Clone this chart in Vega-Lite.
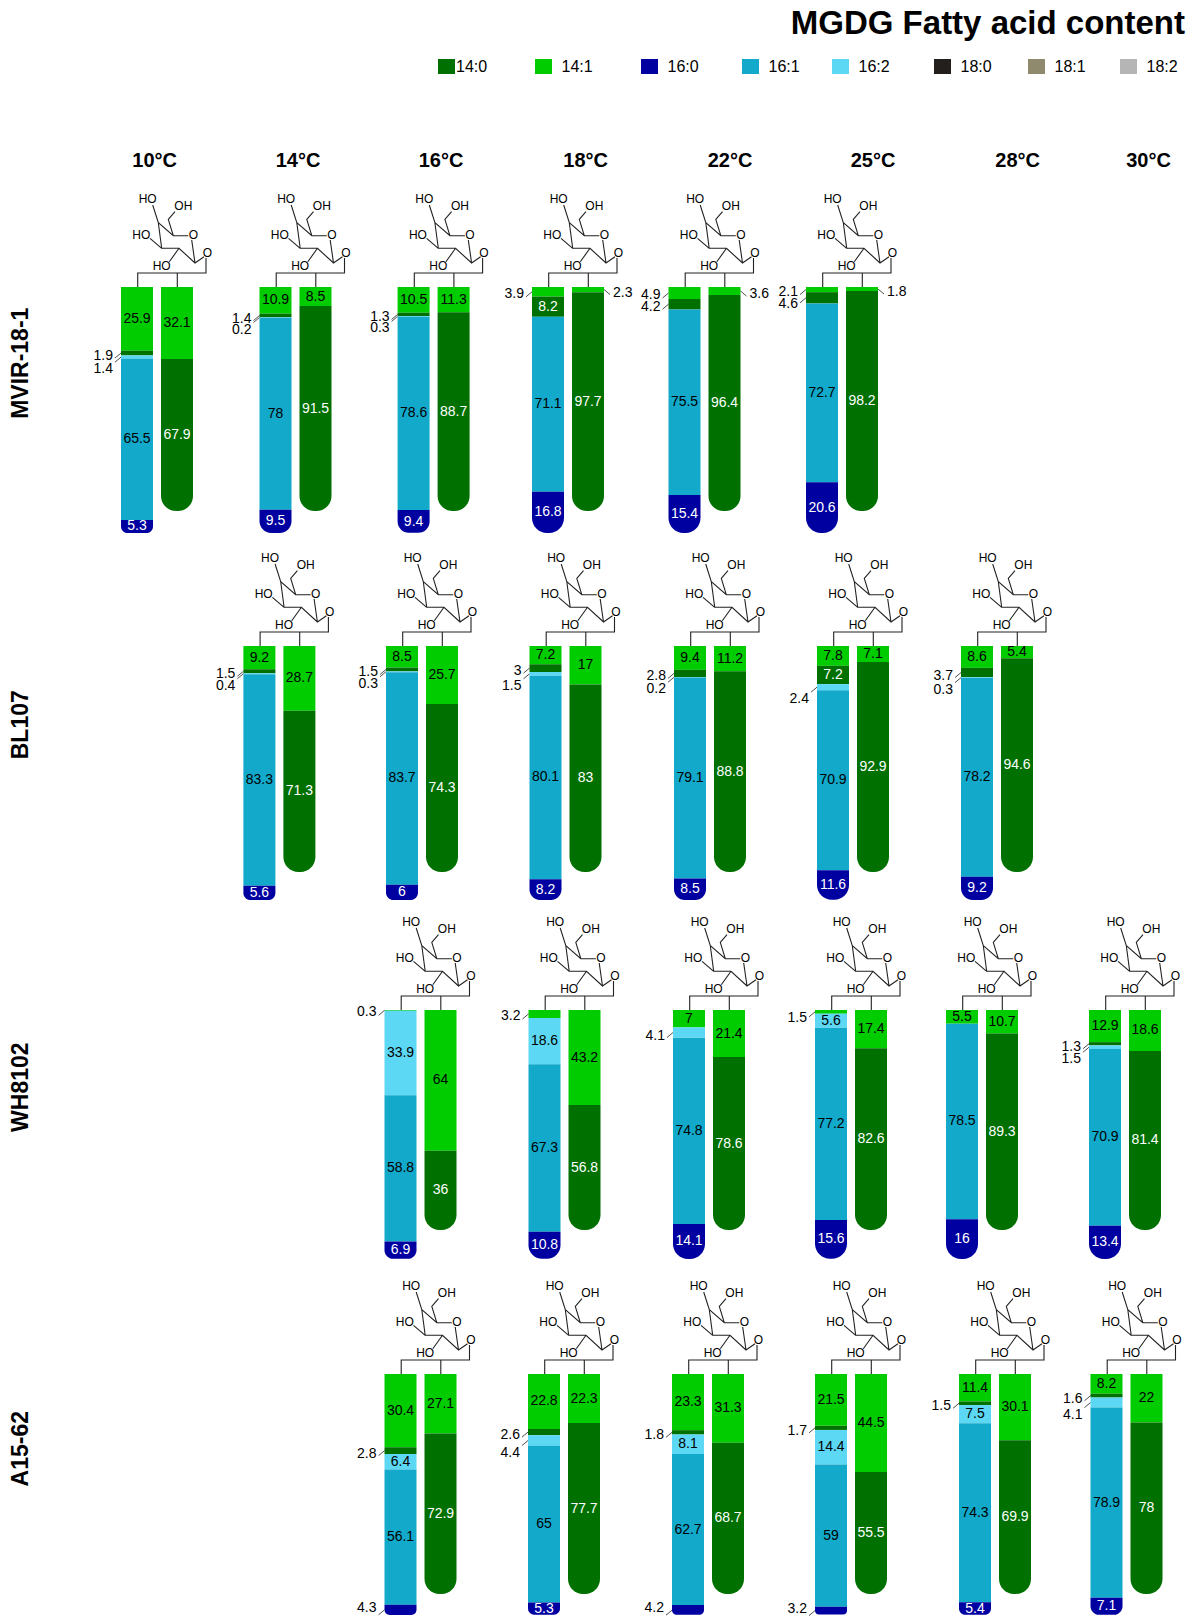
{
"$schema":"https://vega.github.io/schema/vega-lite/v6.json",
"width":1196,"height":1616,"padding":0,"autosize":{"type":"none"},"background":"#ffffff",
"config":{"font":"Liberation Sans","view":{"stroke":null}},
"title":{"text":"MGDG Fatty acid content","anchor":"end","frame":"group","fontSize":33,"fontWeight":"bold","font":"Liberation Sans","color":"#000000","offset":0,"dy":67,"dx":-11,"baseline":"alphabetic"},
"data":{"values":[
{"strain":"MVIR-18-1","temp":10,"tube":"sn1","fa":"14:1","pct":25.9},{"strain":"MVIR-18-1","temp":10,"tube":"sn1","fa":"14:0","pct":1.9},{"strain":"MVIR-18-1","temp":10,"tube":"sn1","fa":"16:2","pct":1.4},{"strain":"MVIR-18-1","temp":10,"tube":"sn1","fa":"16:1","pct":65.5},{"strain":"MVIR-18-1","temp":10,"tube":"sn1","fa":"16:0","pct":5.3},{"strain":"MVIR-18-1","temp":10,"tube":"sn2","fa":"14:1","pct":32.1},{"strain":"MVIR-18-1","temp":10,"tube":"sn2","fa":"14:0","pct":67.9},
{"strain":"MVIR-18-1","temp":14,"tube":"sn1","fa":"14:1","pct":10.9},{"strain":"MVIR-18-1","temp":14,"tube":"sn1","fa":"14:0","pct":1.4},{"strain":"MVIR-18-1","temp":14,"tube":"sn1","fa":"16:2","pct":0.2},{"strain":"MVIR-18-1","temp":14,"tube":"sn1","fa":"16:1","pct":78},{"strain":"MVIR-18-1","temp":14,"tube":"sn1","fa":"16:0","pct":9.5},{"strain":"MVIR-18-1","temp":14,"tube":"sn2","fa":"14:1","pct":8.5},{"strain":"MVIR-18-1","temp":14,"tube":"sn2","fa":"14:0","pct":91.5},
{"strain":"MVIR-18-1","temp":16,"tube":"sn1","fa":"14:1","pct":10.5},{"strain":"MVIR-18-1","temp":16,"tube":"sn1","fa":"14:0","pct":1.3},{"strain":"MVIR-18-1","temp":16,"tube":"sn1","fa":"16:2","pct":0.3},{"strain":"MVIR-18-1","temp":16,"tube":"sn1","fa":"16:1","pct":78.6},{"strain":"MVIR-18-1","temp":16,"tube":"sn1","fa":"16:0","pct":9.4},{"strain":"MVIR-18-1","temp":16,"tube":"sn2","fa":"14:1","pct":11.3},{"strain":"MVIR-18-1","temp":16,"tube":"sn2","fa":"14:0","pct":88.7},
{"strain":"MVIR-18-1","temp":18,"tube":"sn1","fa":"14:1","pct":3.9},{"strain":"MVIR-18-1","temp":18,"tube":"sn1","fa":"14:0","pct":8.2},{"strain":"MVIR-18-1","temp":18,"tube":"sn1","fa":"16:1","pct":71.1},{"strain":"MVIR-18-1","temp":18,"tube":"sn1","fa":"16:0","pct":16.8},{"strain":"MVIR-18-1","temp":18,"tube":"sn2","fa":"14:1","pct":2.3},{"strain":"MVIR-18-1","temp":18,"tube":"sn2","fa":"14:0","pct":97.7},
{"strain":"MVIR-18-1","temp":22,"tube":"sn1","fa":"14:1","pct":4.9},{"strain":"MVIR-18-1","temp":22,"tube":"sn1","fa":"14:0","pct":4.2},{"strain":"MVIR-18-1","temp":22,"tube":"sn1","fa":"16:1","pct":75.5},{"strain":"MVIR-18-1","temp":22,"tube":"sn1","fa":"16:0","pct":15.4},{"strain":"MVIR-18-1","temp":22,"tube":"sn2","fa":"14:1","pct":3.6},{"strain":"MVIR-18-1","temp":22,"tube":"sn2","fa":"14:0","pct":96.4},
{"strain":"MVIR-18-1","temp":25,"tube":"sn1","fa":"14:1","pct":2.1},{"strain":"MVIR-18-1","temp":25,"tube":"sn1","fa":"14:0","pct":4.6},{"strain":"MVIR-18-1","temp":25,"tube":"sn1","fa":"16:1","pct":72.7},{"strain":"MVIR-18-1","temp":25,"tube":"sn1","fa":"16:0","pct":20.6},{"strain":"MVIR-18-1","temp":25,"tube":"sn2","fa":"14:1","pct":1.8},{"strain":"MVIR-18-1","temp":25,"tube":"sn2","fa":"14:0","pct":98.2},
{"strain":"BL107","temp":14,"tube":"sn1","fa":"14:1","pct":9.2},{"strain":"BL107","temp":14,"tube":"sn1","fa":"14:0","pct":1.5},{"strain":"BL107","temp":14,"tube":"sn1","fa":"16:2","pct":0.4},{"strain":"BL107","temp":14,"tube":"sn1","fa":"16:1","pct":83.3},{"strain":"BL107","temp":14,"tube":"sn1","fa":"16:0","pct":5.6},{"strain":"BL107","temp":14,"tube":"sn2","fa":"14:1","pct":28.7},{"strain":"BL107","temp":14,"tube":"sn2","fa":"14:0","pct":71.3},
{"strain":"BL107","temp":16,"tube":"sn1","fa":"14:1","pct":8.5},{"strain":"BL107","temp":16,"tube":"sn1","fa":"14:0","pct":1.5},{"strain":"BL107","temp":16,"tube":"sn1","fa":"16:2","pct":0.3},{"strain":"BL107","temp":16,"tube":"sn1","fa":"16:1","pct":83.7},{"strain":"BL107","temp":16,"tube":"sn1","fa":"16:0","pct":6},{"strain":"BL107","temp":16,"tube":"sn2","fa":"14:1","pct":25.7},{"strain":"BL107","temp":16,"tube":"sn2","fa":"14:0","pct":74.3},
{"strain":"BL107","temp":18,"tube":"sn1","fa":"14:1","pct":7.2},{"strain":"BL107","temp":18,"tube":"sn1","fa":"14:0","pct":3},{"strain":"BL107","temp":18,"tube":"sn1","fa":"16:2","pct":1.5},{"strain":"BL107","temp":18,"tube":"sn1","fa":"16:1","pct":80.1},{"strain":"BL107","temp":18,"tube":"sn1","fa":"16:0","pct":8.2},{"strain":"BL107","temp":18,"tube":"sn2","fa":"14:1","pct":17},{"strain":"BL107","temp":18,"tube":"sn2","fa":"14:0","pct":83},
{"strain":"BL107","temp":22,"tube":"sn1","fa":"14:1","pct":9.4},{"strain":"BL107","temp":22,"tube":"sn1","fa":"14:0","pct":2.8},{"strain":"BL107","temp":22,"tube":"sn1","fa":"16:2","pct":0.2},{"strain":"BL107","temp":22,"tube":"sn1","fa":"16:1","pct":79.1},{"strain":"BL107","temp":22,"tube":"sn1","fa":"16:0","pct":8.5},{"strain":"BL107","temp":22,"tube":"sn2","fa":"14:1","pct":11.2},{"strain":"BL107","temp":22,"tube":"sn2","fa":"14:0","pct":88.8},
{"strain":"BL107","temp":25,"tube":"sn1","fa":"14:1","pct":7.8},{"strain":"BL107","temp":25,"tube":"sn1","fa":"14:0","pct":7.2},{"strain":"BL107","temp":25,"tube":"sn1","fa":"16:2","pct":2.4},{"strain":"BL107","temp":25,"tube":"sn1","fa":"16:1","pct":70.9},{"strain":"BL107","temp":25,"tube":"sn1","fa":"16:0","pct":11.6},{"strain":"BL107","temp":25,"tube":"sn2","fa":"14:1","pct":7.1},{"strain":"BL107","temp":25,"tube":"sn2","fa":"14:0","pct":92.9},
{"strain":"BL107","temp":28,"tube":"sn1","fa":"14:1","pct":8.6},{"strain":"BL107","temp":28,"tube":"sn1","fa":"14:0","pct":3.7},{"strain":"BL107","temp":28,"tube":"sn1","fa":"16:2","pct":0.3},{"strain":"BL107","temp":28,"tube":"sn1","fa":"16:1","pct":78.2},{"strain":"BL107","temp":28,"tube":"sn1","fa":"16:0","pct":9.2},{"strain":"BL107","temp":28,"tube":"sn2","fa":"14:1","pct":5.4},{"strain":"BL107","temp":28,"tube":"sn2","fa":"14:0","pct":94.6},
{"strain":"WH8102","temp":16,"tube":"sn1","fa":"14:1","pct":0.3},{"strain":"WH8102","temp":16,"tube":"sn1","fa":"16:2","pct":33.9},{"strain":"WH8102","temp":16,"tube":"sn1","fa":"16:1","pct":58.8},{"strain":"WH8102","temp":16,"tube":"sn1","fa":"16:0","pct":6.9},{"strain":"WH8102","temp":16,"tube":"sn2","fa":"14:1","pct":64},{"strain":"WH8102","temp":16,"tube":"sn2","fa":"14:0","pct":36},
{"strain":"WH8102","temp":18,"tube":"sn1","fa":"14:1","pct":3.2},{"strain":"WH8102","temp":18,"tube":"sn1","fa":"16:2","pct":18.6},{"strain":"WH8102","temp":18,"tube":"sn1","fa":"16:1","pct":67.3},{"strain":"WH8102","temp":18,"tube":"sn1","fa":"16:0","pct":10.8},{"strain":"WH8102","temp":18,"tube":"sn2","fa":"14:1","pct":43.2},{"strain":"WH8102","temp":18,"tube":"sn2","fa":"14:0","pct":56.8},
{"strain":"WH8102","temp":22,"tube":"sn1","fa":"14:1","pct":7},{"strain":"WH8102","temp":22,"tube":"sn1","fa":"16:2","pct":4.1},{"strain":"WH8102","temp":22,"tube":"sn1","fa":"16:1","pct":74.8},{"strain":"WH8102","temp":22,"tube":"sn1","fa":"16:0","pct":14.1},{"strain":"WH8102","temp":22,"tube":"sn2","fa":"14:1","pct":21.4},{"strain":"WH8102","temp":22,"tube":"sn2","fa":"14:0","pct":78.6},
{"strain":"WH8102","temp":25,"tube":"sn1","fa":"14:1","pct":1.5},{"strain":"WH8102","temp":25,"tube":"sn1","fa":"16:2","pct":5.6},{"strain":"WH8102","temp":25,"tube":"sn1","fa":"16:1","pct":77.2},{"strain":"WH8102","temp":25,"tube":"sn1","fa":"16:0","pct":15.6},{"strain":"WH8102","temp":25,"tube":"sn2","fa":"14:1","pct":17.4},{"strain":"WH8102","temp":25,"tube":"sn2","fa":"14:0","pct":82.6},
{"strain":"WH8102","temp":28,"tube":"sn1","fa":"14:1","pct":5.5},{"strain":"WH8102","temp":28,"tube":"sn1","fa":"16:1","pct":78.5},{"strain":"WH8102","temp":28,"tube":"sn1","fa":"16:0","pct":16},{"strain":"WH8102","temp":28,"tube":"sn2","fa":"14:1","pct":10.7},{"strain":"WH8102","temp":28,"tube":"sn2","fa":"14:0","pct":89.3},
{"strain":"WH8102","temp":30,"tube":"sn1","fa":"14:1","pct":12.9},{"strain":"WH8102","temp":30,"tube":"sn1","fa":"14:0","pct":1.3},{"strain":"WH8102","temp":30,"tube":"sn1","fa":"16:2","pct":1.5},{"strain":"WH8102","temp":30,"tube":"sn1","fa":"16:1","pct":70.9},{"strain":"WH8102","temp":30,"tube":"sn1","fa":"16:0","pct":13.4},{"strain":"WH8102","temp":30,"tube":"sn2","fa":"14:1","pct":18.6},{"strain":"WH8102","temp":30,"tube":"sn2","fa":"14:0","pct":81.4},
{"strain":"A15-62","temp":16,"tube":"sn1","fa":"14:1","pct":30.4},{"strain":"A15-62","temp":16,"tube":"sn1","fa":"14:0","pct":2.8},{"strain":"A15-62","temp":16,"tube":"sn1","fa":"16:2","pct":6.4},{"strain":"A15-62","temp":16,"tube":"sn1","fa":"16:1","pct":56.1},{"strain":"A15-62","temp":16,"tube":"sn1","fa":"16:0","pct":4.3},{"strain":"A15-62","temp":16,"tube":"sn2","fa":"14:1","pct":27.1},{"strain":"A15-62","temp":16,"tube":"sn2","fa":"14:0","pct":72.9},
{"strain":"A15-62","temp":18,"tube":"sn1","fa":"14:1","pct":22.8},{"strain":"A15-62","temp":18,"tube":"sn1","fa":"14:0","pct":2.6},{"strain":"A15-62","temp":18,"tube":"sn1","fa":"16:2","pct":4.4},{"strain":"A15-62","temp":18,"tube":"sn1","fa":"16:1","pct":65},{"strain":"A15-62","temp":18,"tube":"sn1","fa":"16:0","pct":5.3},{"strain":"A15-62","temp":18,"tube":"sn2","fa":"14:1","pct":22.3},{"strain":"A15-62","temp":18,"tube":"sn2","fa":"14:0","pct":77.7},
{"strain":"A15-62","temp":22,"tube":"sn1","fa":"14:1","pct":23.3},{"strain":"A15-62","temp":22,"tube":"sn1","fa":"14:0","pct":1.8},{"strain":"A15-62","temp":22,"tube":"sn1","fa":"16:2","pct":8.1},{"strain":"A15-62","temp":22,"tube":"sn1","fa":"16:1","pct":62.7},{"strain":"A15-62","temp":22,"tube":"sn1","fa":"16:0","pct":4.2},{"strain":"A15-62","temp":22,"tube":"sn2","fa":"14:1","pct":31.3},{"strain":"A15-62","temp":22,"tube":"sn2","fa":"14:0","pct":68.7},
{"strain":"A15-62","temp":25,"tube":"sn1","fa":"14:1","pct":21.5},{"strain":"A15-62","temp":25,"tube":"sn1","fa":"14:0","pct":1.7},{"strain":"A15-62","temp":25,"tube":"sn1","fa":"16:2","pct":14.4},{"strain":"A15-62","temp":25,"tube":"sn1","fa":"16:1","pct":59},{"strain":"A15-62","temp":25,"tube":"sn1","fa":"16:0","pct":3.2},{"strain":"A15-62","temp":25,"tube":"sn2","fa":"14:1","pct":44.5},{"strain":"A15-62","temp":25,"tube":"sn2","fa":"14:0","pct":55.5},
{"strain":"A15-62","temp":28,"tube":"sn1","fa":"14:1","pct":11.4},{"strain":"A15-62","temp":28,"tube":"sn1","fa":"14:0","pct":1.5},{"strain":"A15-62","temp":28,"tube":"sn1","fa":"16:2","pct":7.5},{"strain":"A15-62","temp":28,"tube":"sn1","fa":"16:1","pct":74.3},{"strain":"A15-62","temp":28,"tube":"sn1","fa":"16:0","pct":5.4},{"strain":"A15-62","temp":28,"tube":"sn2","fa":"14:1","pct":30.1},{"strain":"A15-62","temp":28,"tube":"sn2","fa":"14:0","pct":69.9},
{"strain":"A15-62","temp":30,"tube":"sn1","fa":"14:1","pct":8.2},{"strain":"A15-62","temp":30,"tube":"sn1","fa":"14:0","pct":1.6},{"strain":"A15-62","temp":30,"tube":"sn1","fa":"16:2","pct":4.1},{"strain":"A15-62","temp":30,"tube":"sn1","fa":"16:1","pct":78.9},{"strain":"A15-62","temp":30,"tube":"sn1","fa":"16:0","pct":7.1},{"strain":"A15-62","temp":30,"tube":"sn2","fa":"14:1","pct":22},{"strain":"A15-62","temp":30,"tube":"sn2","fa":"14:0","pct":78}
]},
"transform":[
{"stack":"pct","groupby":["strain","temp","tube"],"as":["s0","s1"]},
{"calculate":"indexof(['MVIR-18-1','BL107','WH8102','A15-62'],datum.strain)","as":"r"},
{"calculate":"datum.r*100+datum.temp","as":"key"},
{"calculate":"datum.r*400+(datum.tube=='sn2'?200:0)","as":"base"},
{"calculate":"datum.base+datum.s0","as":"y0"},
{"calculate":"datum.base+datum.s1","as":"y1"},
{"calculate":"(datum.y0+datum.y1)/2","as":"yc"}
],
"encoding":{
"x":{"field":"key","type":"quantitative","axis":null,"scale":{"zero":false,"nice":false,
"domain":[10,14,16,18,22,25,114,116,118,122,125,128,216,218,222,225,228,230,316,318,322,325,328,330,410,414,416,418,422,425,428,430,450,500,501,502,503,504,505,506,507],
"range":[157,295.5,433.6,568,704.5,842,279.4,422,565.5,710,853,997,420.5,564.5,709,851,982,1125,420.5,564,708,851,995,1126.5,154.7,298,441,585.6,730,873,1017.6,1148.5,20.6,446.5,543.5,649.5,750.5,840.5,942.5,1036.5,1128.5]}},
"y":{"field":"y0","type":"quantitative","axis":null,"scale":{"zero":false,"nice":false,
"domain":[0,100,200,300,400,500,600,700,800,900,1000,1100,1200,1300,1400,1500,1600,1700],
"range":[287,533,287,511,646,900,646,872,1010,1259,1010,1230,1374,1615,1374,1594,161,66.5]}}
},
"layer":[
{"encoding":{"x2":{"field":"key"},"y2":{"field":"y1"},"color":{"field":"fa","type":"nominal","legend":null,"scale":{"domain":["14:0","14:1","16:0","16:1","16:2","18:0","18:1","18:2"],"range":["#007000","#00cc00","#0000a0","#12a9cb","#5cd8f4","#231f1c","#8f8a6d","#b5b5b5"]}}},
"layer":[
{"transform":[{"filter":"datum.tube=='sn1'&&datum.fa!='16:0'"}],"mark":{"type":"rect","xOffset":-36,"x2Offset":-4}},
{"transform":[{"filter":"datum.tube=='sn1'&&datum.fa=='16:0'"}],"mark":{"type":"rect","xOffset":-36,"x2Offset":-4,"cornerRadiusBottomLeft":15,"cornerRadiusBottomRight":15}},
{"transform":[{"filter":"datum.tube=='sn2'&&datum.fa!='14:0'"}],"mark":{"type":"rect","xOffset":4,"x2Offset":36}},
{"transform":[{"filter":"datum.tube=='sn2'&&datum.fa=='14:0'"}],"mark":{"type":"rect","xOffset":4,"x2Offset":36,"cornerRadiusBottomLeft":15,"cornerRadiusBottomRight":15}}
]},
{"encoding":{"y":{"field":"yc","type":"quantitative"},"text":{"field":"pct","type":"nominal"},"color":{"condition":{"test":"datum.fa=='14:0'||datum.fa=='16:0'","value":"#ffffff"},"value":"#000000"}},
"transform":[{"filter":"datum.pct>=5"}],
"layer":[
{"transform":[{"filter":"datum.tube=='sn1'"}],"mark":{"type":"text","fontSize":14,"dx":-20,"align":"center","baseline":"middle"}},
{"transform":[{"filter":"datum.tube=='sn2'"}],"mark":{"type":"text","fontSize":14,"dx":20,"align":"center","baseline":"middle"}}
]},
{"encoding":{"y":{"field":"yc","type":"quantitative"},"x2":{"field":"key"},"y2":{"field":"yc"}},
"transform":[{"filter":"datum.pct<5"}],
"layer":[
{"transform":[{"filter":"datum.tube=='sn1'"}],"mark":{"type":"rule","xOffset":-36,"x2Offset":-42,"y2Offset":5,"color":"#222222","strokeWidth":0.8}},
{"transform":[{"filter":"datum.tube=='sn2'"}],"mark":{"type":"rule","xOffset":36,"x2Offset":42,"y2Offset":5,"color":"#222222","strokeWidth":0.8}}
]},
{"encoding":{"y":{"field":"yc","type":"quantitative"},"text":{"field":"pct","type":"nominal"}},
"transform":[{"filter":"datum.pct<5"}],
"layer":[
{"transform":[{"filter":"datum.tube=='sn1'&&datum.fa=='14:1'&&!(datum.strain=='WH8102'&&datum.temp==25)"}],"mark":{"type":"text","fontSize":14,"dx":-44,"dy":2,"align":"right","baseline":"middle","color":"#000000"}},
{"transform":[{"filter":"datum.tube=='sn1'&&((datum.fa=='14:1'&&datum.strain=='WH8102'&&datum.temp==25)||(datum.fa=='14:0'&&datum.strain=='MVIR-18-1'&&datum.temp==25))"}],"mark":{"type":"text","fontSize":14,"dx":-44,"dy":6,"align":"right","baseline":"middle","color":"#000000"}},
{"transform":[{"filter":"datum.tube=='sn1'&&((datum.fa=='14:0'&&!(datum.strain=='MVIR-18-1'&&datum.temp==25))||(datum.fa=='16:2'&&datum.strain=='WH8102'&&datum.temp==22))"}],"mark":{"type":"text","fontSize":14,"dx":-44,"dy":3,"align":"right","baseline":"middle","color":"#000000"}},
{"transform":[{"filter":"datum.tube=='sn1'&&datum.fa=='16:0'"}],"mark":{"type":"text","fontSize":14,"dx":-44,"dy":-2,"align":"right","baseline":"middle","color":"#000000"}},
{"transform":[{"filter":"datum.tube=='sn1'&&datum.fa=='16:2'&&!(datum.strain=='WH8102'&&datum.temp==22)"}],"mark":{"type":"text","fontSize":14,"dx":-44,"dy":12,"align":"right","baseline":"middle","color":"#000000"}},
{"transform":[{"filter":"datum.tube=='sn2'"}],"mark":{"type":"text","fontSize":14,"dx":45,"dy":3,"align":"left","baseline":"middle","color":"#000000"}}
]},
{"transform":[{"filter":"datum.tube=='sn1'&&datum.fa=='14:1'"}],
"layer":[
{"mark":{"type":"point","shape":"M-19.3,0V-14H49V-29M20.3,-14V0M47,-30.3L38,-24L22,-38.7L4.7,-38.7L1.3,-64.3L16.3,-51.3L31.3,-51.3M38,-24L34.7,-47M16.3,-51.3L11.3,-67.7L18,-75.3M1.3,-64.3L-4.3,-82M4.7,-38.7L-7,-48.7M22,-38.7L12.3,-25.3","size":4,"filled":false,"stroke":"#222222","strokeWidth":1.1,"opacity":1}},
{"mark":{"type":"text","text":"HO","fontSize":12,"dx":-9.3,"dy":-88.3,"baseline":"middle","align":"center","color":"#000000"}},
{"mark":{"type":"text","text":"OH","fontSize":12,"dx":26.3,"dy":-80.7,"baseline":"middle","align":"center","color":"#000000"}},
{"mark":{"type":"text","text":"HO","fontSize":12,"dx":-15.7,"dy":-52,"baseline":"middle","align":"center","color":"#000000"}},
{"mark":{"type":"text","text":"O","fontSize":12,"dx":36.3,"dy":-52,"baseline":"middle","align":"center","color":"#000000"}},
{"mark":{"type":"text","text":"HO","fontSize":12,"dx":4.7,"dy":-21,"baseline":"middle","align":"center","color":"#000000"}},
{"mark":{"type":"text","text":"O","fontSize":12,"dx":50.3,"dy":-34.3,"baseline":"middle","align":"center","color":"#000000"}}
]},
{"data":{"values":[{"label":"10°C","temp":10},{"label":"14°C","temp":14},{"label":"16°C","temp":16},{"label":"18°C","temp":18},{"label":"22°C","temp":22},{"label":"25°C","temp":25},{"label":"28°C","temp":28},{"label":"30°C","temp":30}]},
"transform":[{"calculate":"400+datum.temp","as":"key"},{"calculate":"1600","as":"y0"}],
"mark":{"type":"text","fontSize":20,"fontWeight":"bold","align":"center","baseline":"middle","color":"#000000"},
"encoding":{"text":{"field":"label","type":"nominal"}}},
{"data":{"values":[{"strain":"MVIR-18-1"},{"strain":"BL107"},{"strain":"WH8102"},{"strain":"A15-62"}]},
"transform":[{"calculate":"450","as":"key"},{"calculate":"indexof(['MVIR-18-1','BL107','WH8102','A15-62'],datum.strain)*400+31","as":"y0"}],
"mark":{"type":"text","fontSize":23,"fontWeight":"bold","angle":270,"align":"center","baseline":"middle","color":"#000000"},
"encoding":{"text":{"field":"strain","type":"nominal"}}},
{"data":{"values":[{"fa":"14:0"},{"fa":"14:1"},{"fa":"16:0"},{"fa":"16:1"},{"fa":"16:2"},{"fa":"18:0"},{"fa":"18:1"},{"fa":"18:2"}]},
"transform":[{"calculate":"500+indexof(['14:0','14:1','16:0','16:1','16:2','18:0','18:1','18:2'],datum.fa)","as":"key"},{"calculate":"1700","as":"y0"}],
"layer":[
{"mark":{"type":"rect","xOffset":-8.5,"x2Offset":8.5,"yOffset":-7.5,"y2Offset":7.5},"encoding":{"x2":{"field":"key"},"y2":{"field":"y0"},"color":{"field":"fa","type":"nominal","legend":null}}},
{"transform":[{"filter":"datum.fa=='14:0'"}],"mark":{"type":"text","fontSize":16,"dx":9.5,"align":"left","baseline":"middle","color":"#000000"},"encoding":{"text":{"field":"fa","type":"nominal"}}},
{"transform":[{"filter":"datum.fa!='14:0'"}],"mark":{"type":"text","fontSize":16,"dx":18,"align":"left","baseline":"middle","color":"#000000"},"encoding":{"text":{"field":"fa","type":"nominal"}}}
]}
]
}
